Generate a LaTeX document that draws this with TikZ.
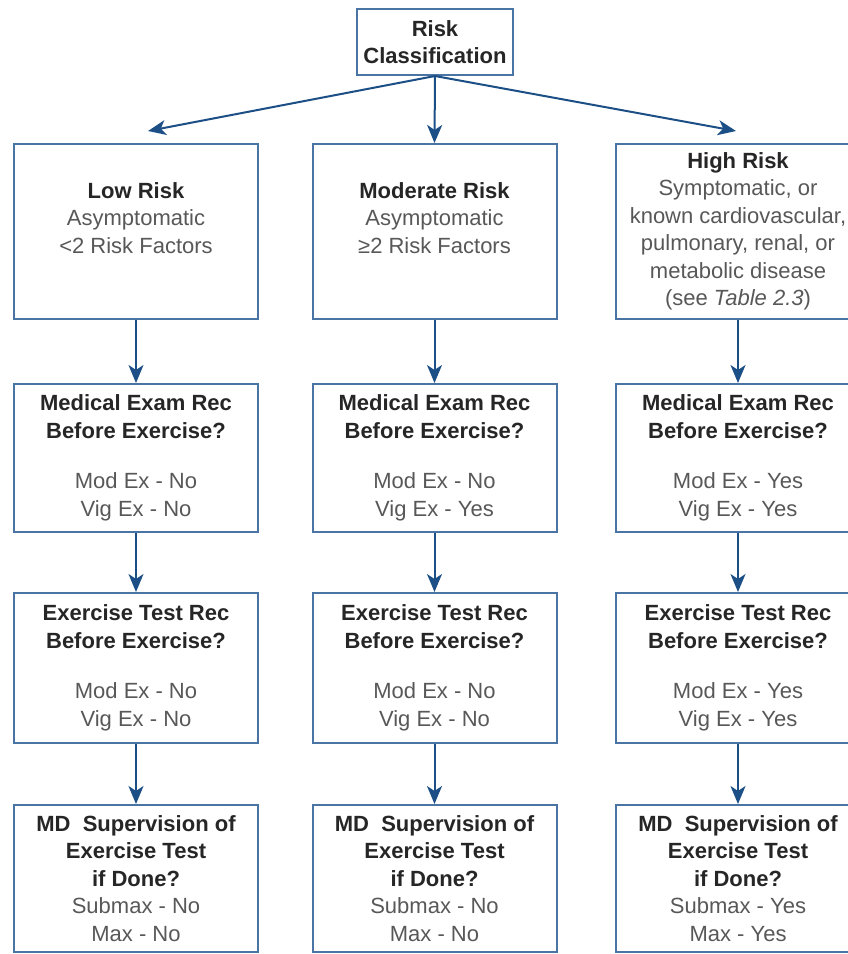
\documentclass[tikz,border=0pt]{standalone}
\usepackage{fontspec}
\setmainfont{Liberation Sans}
\usetikzlibrary{arrows.meta, positioning}
\definecolor{boxblue}{RGB}{74,116,163}
\definecolor{arrowblue}{RGB}{28,79,133}
\definecolor{headgray}{RGB}{38,38,38}
\definecolor{textgray}{RGB}{88,88,88}
\newcommand{\hd}[1]{{\bfseries\color{headgray}#1}}

\begin{document}
\begin{tikzpicture}[>={Stealth[length=18pt,width=15pt,inset=5pt]}, x=1pt, y=-1pt,
  font=\fontsize{22}{27.5}\selectfont,
  box/.style={draw=boxblue, line width=2pt, fill=white, align=center,
    text=textgray, inner sep=0pt, minimum width=244pt},
  link/.style={->, draw=arrowblue, line width=2pt}]
\useasboundingbox (0,0) rectangle (847,954);
%
\node[box, minimum width=156pt, minimum height=66pt] (risk) at (435,42) {\hd{Risk}\\\hd{Classification}};
%
\node[box, minimum height=175pt] (low) at (136,231.5) {\hd{Low Risk}\\Asymptomatic\\<2 Risk Factors\\\mbox{}};
\node[box, minimum height=175pt] (mod) at (434.5,231.5) {\hd{Moderate Risk}\\Asymptomatic\\≥2 Risk Factors\\\mbox{}};
\node[box, minimum height=175pt] (high) at (738,231.5) {\hd{High Risk}\\Symptomatic, or\\known cardiovascular,\\pulmonary, renal, or\\metabolic disease\\(see \textit{Table 2.3})};
%
\node[box, minimum height=148pt] (lowexam) at (136,458) {\hd{Medical Exam Rec}\\\hd{Before Exercise?}\\[23pt]Mod Ex - No\\Vig Ex - No};
\node[box, minimum height=148pt] (modexam) at (434.5,458) {\hd{Medical Exam Rec}\\\hd{Before Exercise?}\\[23pt]Mod Ex - No\\Vig Ex - Yes};
\node[box, minimum height=148pt] (highexam) at (738,458) {\hd{Medical Exam Rec}\\\hd{Before Exercise?}\\[23pt]Mod Ex - Yes\\Vig Ex - Yes};
%
\node[box, minimum height=150pt] (lowtest) at (136,668) {\hd{Exercise Test Rec}\\\hd{Before Exercise?}\\[23pt]Mod Ex - No\\Vig Ex - No};
\node[box, minimum height=150pt] (modtest) at (434.5,668) {\hd{Exercise Test Rec}\\\hd{Before Exercise?}\\[23pt]Mod Ex - No\\Vig Ex - No};
\node[box, minimum height=150pt] (hightest) at (738,668) {\hd{Exercise Test Rec}\\\hd{Before Exercise?}\\[23pt]Mod Ex - Yes\\Vig Ex - Yes};
%
\node[box, minimum height=147pt] (lowmd) at (136,878.5) {\hd{MD\ \ Supervision of}\\\hd{Exercise Test}\\\hd{if Done?}\\Submax - No\\Max - No};
\node[box, minimum height=147pt] (modmd) at (434.5,878.5) {\hd{MD\ \ Supervision of}\\\hd{Exercise Test}\\\hd{if Done?}\\Submax - No\\Max - No};
\node[box, minimum height=147pt] (highmd) at (738,878.5) {\hd{MD\ \ Supervision of}\\\hd{Exercise Test}\\\hd{if Done?}\\Submax - Yes\\Max - Yes};
%
\coordinate (lowtip) at (148,131);
\coordinate (hightip) at (736,131);
\draw[link] (risk.south) -- (lowtip);
\draw[link] (risk.south) -- (mod.north);
\draw[link] (risk.south) -- (hightip);
%
\foreach \c in {low, mod, high} {
  \draw[link] (\c.south) -- (\c exam.north);
  \draw[link] (\c exam.south) -- (\c test.north);
  \draw[link] (\c test.south) -- (\c md.north);
}
\end{tikzpicture}
\end{document}
